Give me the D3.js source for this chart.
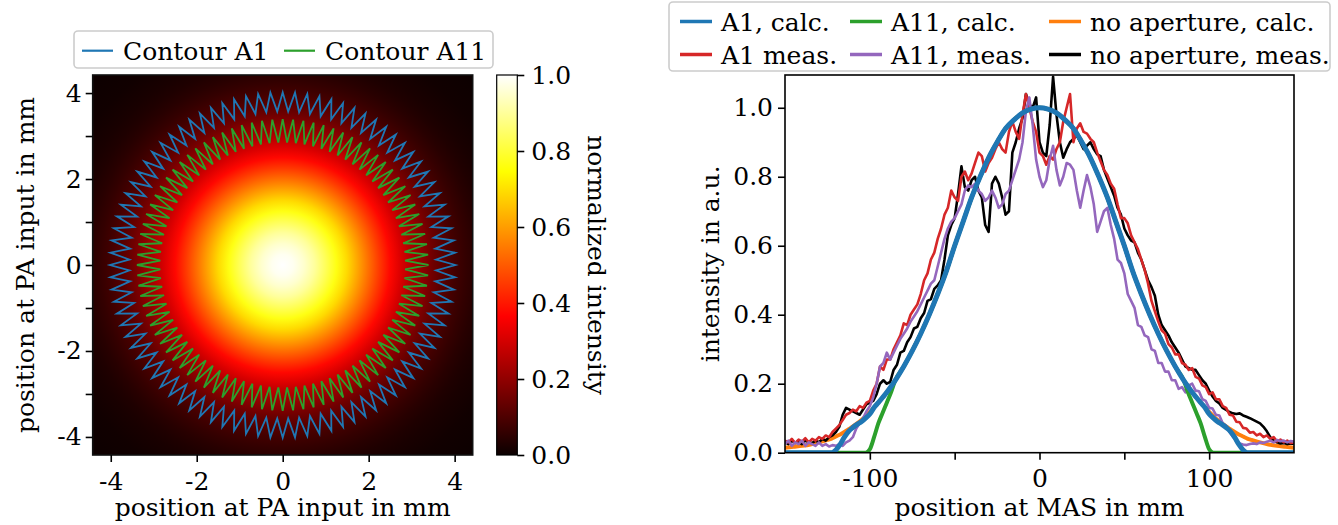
<html>
<head>
<meta charset="utf-8">
<title>Aperture profiles</title>
<style>
  body { margin: 0; background: #fff; }
  text { font-family: "DejaVu Serif", serif; font-size: 25px; fill: #000; }
</style>
</head>
<body>
<script src="https://d3js.org/d3.v7.min.js"></script>
<script>
var widthCanvas = 1338;
var heightCanvas = 525;

// ---- left panel: beam at PA input ----
// radial profile (radius in mm, normalized intensity)
var profileR = [0, 0.25, 0.5, 0.75, 1, 1.25, 1.5, 1.75, 2, 2.25, 2.5, 2.75, 3, 3.25, 3.5, 3.75, 4, 4.25, 4.5, 4.75, 5, 5.5, 6, 6.3];
var profileI = [1.0, 0.985, 0.95, 0.9, 0.835, 0.765, 0.69, 0.61, 0.53, 0.45, 0.375, 0.31, 0.248, 0.195, 0.15, 0.113, 0.084, 0.061, 0.043, 0.03, 0.021, 0.009, 0.004, 0.002];

// serrated apertures: [teeth, outer radius, inner radius] in mm
var contourA1 = [88, 4.02, 3.57];
var contourA11 = [88, 3.39, 2.85];

var imgExtent = [-4.42, 4.42];
var imgTicks = [-4, -2, 0, 2, 4];
var imgMinorY = [-3, -1, 1, 3];
var cbTicks = [0, 0.2, 0.4, 0.6, 0.8, 1.0];

// ---- right panel: profiles at MAS ----
var calcX = [-150,-145,-140,-135,-130,-125,-122.5,-120,-117.5,-115,-112.5,-110,-107.5,-105,-102.5,-100,-97.5,-95,-92.5,-90,-87.5,-85,
  -80,-75,-70,-65,-60,-55,-50,-45,-40,-35,-30,-25,-20,-15,-10,-5,0,5,10,15,20,25,30,35,40,45,50,55,60,65,70,75,80,
  85,87.5,90,92.5,95,97.5,100,102.5,105,107.5,110,112.5,115,117.5,120,122.5,125,130,135,140,145,150];
var calcNoAp = [.014,.017,.02,.024,.03,.037,.041,.047,.053,.06,.068,.076,.085,.095,.106,.118,.131,.145,.16,.175,.192,.21,
  .25,.295,.345,.40,.46,.525,.60,.67,.74,.80,.855,.90,.94,.965,.985,.996,1.0,.996,.985,.965,.94,.90,.855,.80,.74,.67,.60,.525,.46,.40,.345,.295,.25,
  .21,.192,.175,.16,.145,.131,.118,.106,.095,.085,.076,.068,.06,.053,.047,.041,.037,.03,.024,.02,.017,.014];
var calcA1 = [0,0,0,0,0,0,0,.008,.024,.045,.062,.073,.082,.09,.1,.112,.131,.145,.16,.175,.192,.21,
  .25,.295,.345,.40,.46,.525,.60,.67,.74,.80,.855,.90,.94,.965,.985,.996,1.0,.996,.985,.965,.94,.90,.855,.80,.74,.67,.60,.525,.46,.40,.345,.295,.25,
  .21,.192,.175,.16,.145,.131,.112,.1,.09,.082,.073,.062,.045,.024,.008,0,0,0,0,0,0,0];
var calcA11 = [0,0,0,0,0,0,0,0,0,0,0,0,0,0,0,.01,.045,.085,.115,.145,.175,.21,
  .25,.295,.345,.40,.46,.525,.60,.67,.74,.80,.855,.90,.94,.965,.985,.996,1.0,.996,.985,.965,.94,.90,.855,.80,.74,.67,.60,.525,.46,.40,.345,.295,.25,
  .21,.175,.145,.115,.085,.045,.01,0,0,0,0,0,0,0,0,0,0,0,0,0,0,0];

var measX = [-150,-148,-146,-144,-142,-140,-138,-136,-134,-132,-130,-128,-126,-124,-122,-120,-118,-116,-114,-112,
  -110,-108,-106,-104,-102,-100,-98,-96,-94,-92,-90,-88,-86,-84,-82,-80,-78,-76,-74,-72,
  -70,-68,-66,-64,-62,-60,-58,-56,-54,-52,-50,-48,-46,-44,-42,-40,-38,-36,-34,-32,
  -30,-28,-26,-24,-22,-20,-18,-16,-14,-12,-10,-8,-6,-4,-2,0,2,4,6,8,
  10,12,14,16,18,20,22,24,26,28,30,32,34,36,38,40,42,44,46,48,
  50,52,54,56,58,60,62,64,66,68,70,72,74,76,78,80,82,84,86,88,
  90,92,94,96,98,100,102,104,106,108,110,112,114,116,118,120,122,124,126,128,
  130,132,134,136,138,140,142,144,146,148,150];
var measA1 = [.035,.03,.04,.028,.038,.032,.042,.03,.04,.035,.045,.04,.05,.045,.06,.07,.08,.095,.11,.115,
  .125,.12,.135,.13,.145,.15,.18,.2,.25,.24,.27,.27,.3,.32,.34,.375,.37,.4,.415,.43,
  .46,.5,.52,.56,.58,.62,.65,.69,.71,.76,.74,.73,.8,.815,.79,.81,.84,.87,.86,.815,
  .84,.855,.88,.9,.88,.87,.93,.96,.93,.91,.98,1.04,1.0,.96,.93,.87,.86,.835,.86,.85,
  .88,.9,.96,1.0,1.04,.9,.94,.955,.93,.925,.91,.9,.87,.845,.82,.805,.78,.765,.72,.68,
  .68,.665,.63,.61,.59,.56,.53,.49,.44,.41,.38,.355,.345,.315,.305,.285,.285,.26,.255,.24,
  .245,.22,.215,.195,.19,.17,.175,.155,.155,.135,.13,.11,.108,.09,.088,.072,.07,.058,.06,.05,
  .055,.045,.05,.04,.045,.033,.038,.03,.035,.028,.03];
var measA11 = [.025,.035,.02,.03,.025,.035,.02,.03,.025,.02,.03,.02,.025,.018,.022,.02,.025,.02,.03,.035,
  .045,.07,.085,.1,.12,.135,.16,.2,.25,.26,.29,.27,.29,.31,.33,.345,.36,.38,.395,.41,
  .43,.45,.47,.49,.5,.54,.58,.62,.65,.67,.68,.7,.72,.76,.775,.77,.78,.76,.75,.73,
  .74,.76,.74,.71,.72,.75,.76,.79,.82,.85,.9,.99,1.03,.95,.85,.8,.77,.79,.85,.89,
  .82,.775,.8,.84,.835,.82,.76,.71,.76,.805,.77,.72,.64,.67,.7,.71,.66,.62,.56,.55,
  .52,.46,.44,.42,.37,.365,.34,.335,.3,.295,.26,.26,.235,.235,.21,.21,.185,.19,.175,.195,
  .2,.18,.178,.155,.15,.13,.128,.11,.108,.085,.078,.06,.046,.035,.027,.024,.022,.025,.027,.025,
  .03,.028,.032,.035,.03,.037,.033,.035,.03,.034,.032];
var measNoAp = [.03,.025,.035,.028,.03,.025,.035,.03,.028,.035,.03,.04,.035,.045,.05,.06,.075,.11,.13,.125,
  .12,.115,.11,.125,.14,.145,.15,.17,.2,.21,.2,.205,.24,.255,.29,.295,.32,.335,.36,.365,
  .39,.405,.44,.445,.475,.485,.5,.56,.63,.66,.68,.75,.83,.77,.76,.79,.8,.76,.74,.66,
  .64,.78,.8,.78,.74,.69,.7,.87,.9,.94,.97,1.04,1.01,1.0,1.03,.9,.87,.86,.95,1.09,
  .98,.9,.855,.88,.9,.91,.92,.9,.88,.89,.9,.88,.865,.86,.82,.795,.77,.745,.71,.69,
  .65,.63,.615,.61,.58,.56,.53,.5,.48,.455,.4,.37,.355,.34,.32,.305,.29,.27,.25,.245,
  .24,.24,.225,.21,.2,.18,.163,.15,.143,.13,.124,.118,.114,.112,.114,.108,.104,.1,.095,.09,
  .085,.075,.062,.045,.037,.03,.027,.028,.025,.027,.026];

var posTicks = [-100, -50, 0, 50, 100];
var posLabels = [-100, 0, 100];
var intTicks = [0, 0.2, 0.4, 0.6, 0.8, 1.0];

var leftLegend = ["Contour A1", "Contour A11"];
var rightLegend = ["A1, calc.", "A1 meas.", "A11, calc.", "A11, meas.", "no aperture, calc.", "no aperture, meas."];

var svg = d3.select("body").append("svg")
  .attr("width", widthCanvas)
  .attr("height", heightCanvas);
var defs = svg.append("defs");

// matplotlib "hot"
var hot = d3.scaleLinear()
  .domain([0, 0.365, 0.746, 1])
  .range(["#0b0000", "#ff0000", "#ffff00", "#ffffff"])
  .clamp(true);

var xImg = d3.scaleLinear().domain(imgExtent).range([92.7, 472.7]);
var yImg = d3.scaleLinear().domain(imgExtent).range([455, 75]);

// beam image as radial gradient from the profile
var rMax = profileR[profileR.length - 1];
var beam = defs.append("radialGradient")
  .attr("id", "beam")
  .attr("gradientUnits", "userSpaceOnUse")
  .attr("cx", xImg(0)).attr("cy", yImg(0))
  .attr("r", xImg(rMax) - xImg(0));
beam.selectAll("stop").data(profileR).enter().append("stop")
  .attr("offset", function(d) { return d / rMax; })
  .attr("stop-color", function(d, i) { return hot(profileI[i]); });

svg.append("rect")
  .attr("x", xImg(imgExtent[0])).attr("y", yImg(imgExtent[1]))
  .attr("width", xImg(imgExtent[1]) - xImg(imgExtent[0]))
  .attr("height", yImg(imgExtent[0]) - yImg(imgExtent[1]))
  .attr("fill", "url(#beam)")
  .attr("stroke", "#111").attr("stroke-width", 1.6);

function contourPoints(c) {
  var n = c[0], pts = [];
  for (var k = 0; k < 2 * n; k++) {
    var a = k * Math.PI / n;
    var r = (k % 2 == 0) ? c[1] : c[2];
    pts.push([xImg(r * Math.cos(a)), yImg(r * Math.sin(a))]);
  }
  return pts;
}
var ring = d3.line().curve(d3.curveLinearClosed);
svg.append("path").attr("d", ring(contourPoints(contourA1)))
  .attr("fill", "none").attr("stroke", "#1f77b4").attr("stroke-width", 1.8);
svg.append("path").attr("d", ring(contourPoints(contourA11)))
  .attr("fill", "none").attr("stroke", "#2ca02c").attr("stroke-width", 1.8);

function styleAxis(g) {
  g.select(".domain").remove();
  g.selectAll(".tick line").attr("stroke-width", 1.6);
  g.attr("font-family", null).attr("font-size", null);
}

svg.append("g").attr("transform", "translate(0," + yImg(imgExtent[0]) + ")")
  .call(d3.axisBottom(xImg).tickValues(imgTicks).tickSize(7).tickPadding(10)
    .tickFormat(function(d) { return String(d); }))
  .call(styleAxis);
svg.append("g").attr("transform", "translate(" + xImg(imgExtent[0]) + ",0)")
  .call(d3.axisLeft(yImg).tickValues(imgTicks.concat(imgMinorY)).tickSize(7).tickPadding(4)
    .tickFormat(function(d) { return imgTicks.indexOf(d) >= 0 ? String(d) : ""; }))
  .call(styleAxis);

svg.append("text").attr("x", xImg(0)).attr("y", 516)
  .attr("text-anchor", "middle").text("position at PA input in mm");
svg.append("text").attr("transform", "translate(34," + yImg(0) + ") rotate(-90)")
  .attr("text-anchor", "middle").text("position at PA input in mm");

// colorbar
var yCb = d3.scaleLinear().domain([0, 1]).range([455, 75]);
var cbGrad = defs.append("linearGradient").attr("id", "cb")
  .attr("x1", 0).attr("y1", 1).attr("x2", 0).attr("y2", 0);
cbGrad.selectAll("stop").data(hot.domain()).enter().append("stop")
  .attr("offset", function(d) { return d; })
  .attr("stop-color", function(d) { return hot(d); });
svg.append("rect").attr("x", 496.7).attr("y", yCb(1))
  .attr("width", 20.6).attr("height", yCb(0) - yCb(1))
  .attr("fill", "url(#cb)").attr("stroke", "#000").attr("stroke-width", 1.2);
svg.append("g").attr("transform", "translate(517.3,0)")
  .call(d3.axisRight(yCb).tickValues(cbTicks).tickSize(7).tickPadding(7)
    .tickFormat(d3.format(".1f")))
  .call(styleAxis);
svg.append("text").attr("transform", "translate(588," + yCb(0.5) + ") rotate(90)")
  .attr("text-anchor", "middle").text("normalized intensity");

// left legend
var legL = svg.append("g");
legL.append("rect").attr("x", 74).attr("y", 31).attr("width", 419).attr("height", 37)
  .attr("rx", 4).attr("fill", "#fff").attr("fill-opacity", 0.8)
  .attr("stroke", "#cccccc").attr("stroke-width", 1.6);
var legLX = [82, 284];
var legLColors = ["#1f77b4", "#2ca02c"];
leftLegend.forEach(function(name, i) {
  legL.append("line").attr("x1", legLX[i]).attr("x2", legLX[i] + 31)
    .attr("y1", 50.7).attr("y2", 50.7)
    .attr("stroke", legLColors[i]).attr("stroke-width", 2.2);
  legL.append("text").attr("x", legLX[i] + 41).attr("y", 60).text(name);
});

// ---- right panel ----
var xR = d3.scaleLinear().domain([-150, 150]).range([785, 1294]);
var yR = d3.scaleLinear().domain([0, 1.095]).range([452.7, 75]);

defs.append("clipPath").attr("id", "plotR").append("rect")
  .attr("x", xR(-150)).attr("y", yR(1.095))
  .attr("width", xR(150) - xR(-150)).attr("height", yR(0) - yR(1.095));

var plotR = svg.append("g").attr("clip-path", "url(#plotR)");
var smooth = d3.line().curve(d3.curveMonotoneX)
  .x(function(d) { return xR(d[0]); }).y(function(d) { return yR(d[1]); });
var raw = d3.line()
  .x(function(d) { return xR(d[0]); }).y(function(d) { return yR(d[1]); });

function pairs(xs, ys) { return xs.map(function(x, i) { return [x, ys[i]]; }); }

var series = [
  { xs: calcX, ys: calcNoAp, color: "#ff7f0e", w: 4, line: smooth },
  { xs: measX, ys: measNoAp, color: "#000000", w: 2.6, line: raw },
  { xs: measX, ys: measA1, color: "#d62728", w: 2.6, line: raw },
  { xs: measX, ys: measA11, color: "#9467bd", w: 2.6, line: raw },
  { xs: calcX, ys: calcA11, color: "#2ca02c", w: 4, line: smooth },
  { xs: calcX, ys: calcA1, color: "#1f77b4", w: 5, line: smooth }
];
series.forEach(function(s) {
  plotR.append("path").attr("d", s.line(pairs(s.xs, s.ys)))
    .attr("fill", "none").attr("stroke", s.color)
    .attr("stroke-width", s.w).attr("stroke-linejoin", "round");
});

svg.append("rect").attr("x", xR(-150)).attr("y", yR(1.095))
  .attr("width", xR(150) - xR(-150)).attr("height", yR(0) - yR(1.095))
  .attr("fill", "none").attr("stroke", "#000").attr("stroke-width", 1.6);

svg.append("g").attr("transform", "translate(0," + yR(0) + ")")
  .call(d3.axisBottom(xR).tickValues(posTicks).tickSize(7).tickPadding(10)
    .tickFormat(function(d) { return posLabels.indexOf(d) >= 0 ? String(d) : ""; }))
  .call(styleAxis);
svg.append("g").attr("transform", "translate(" + xR(-150) + ",0)")
  .call(d3.axisLeft(yR).tickValues(intTicks).tickSize(7).tickPadding(5)
    .tickFormat(d3.format(".1f")))
  .call(styleAxis);

svg.append("text").attr("x", xR(0)).attr("y", 516)
  .attr("text-anchor", "middle").text("position at MAS in mm");
svg.append("text").attr("transform", "translate(719," + yR(0.5475) + ") rotate(-90)")
  .attr("text-anchor", "middle").text("intensity in a.u.");

// right legend, 3 columns x 2 rows
var legR = svg.append("g");
legR.append("rect").attr("x", 669).attr("y", 2).attr("width", 661).attr("height", 69)
  .attr("rx", 4).attr("fill", "#fff").attr("fill-opacity", 0.8)
  .attr("stroke", "#cccccc").attr("stroke-width", 1.6);
var legRColors = ["#1f77b4", "#d62728", "#2ca02c", "#9467bd", "#ff7f0e", "#000000"];
var legRColX = [680, 850, 1049];
var legRRowY = [21.5, 54.5];
rightLegend.forEach(function(name, i) {
  var cx = legRColX[Math.floor(i / 2)], cy = legRRowY[i % 2];
  legR.append("line").attr("x1", cx).attr("x2", cx + 32)
    .attr("y1", cy).attr("y2", cy)
    .attr("stroke", legRColors[i]).attr("stroke-width", 3.5);
  legR.append("text").attr("x", cx + 41).attr("y", cy + 9.5).text(name);
});
</script>
</body>
</html>
